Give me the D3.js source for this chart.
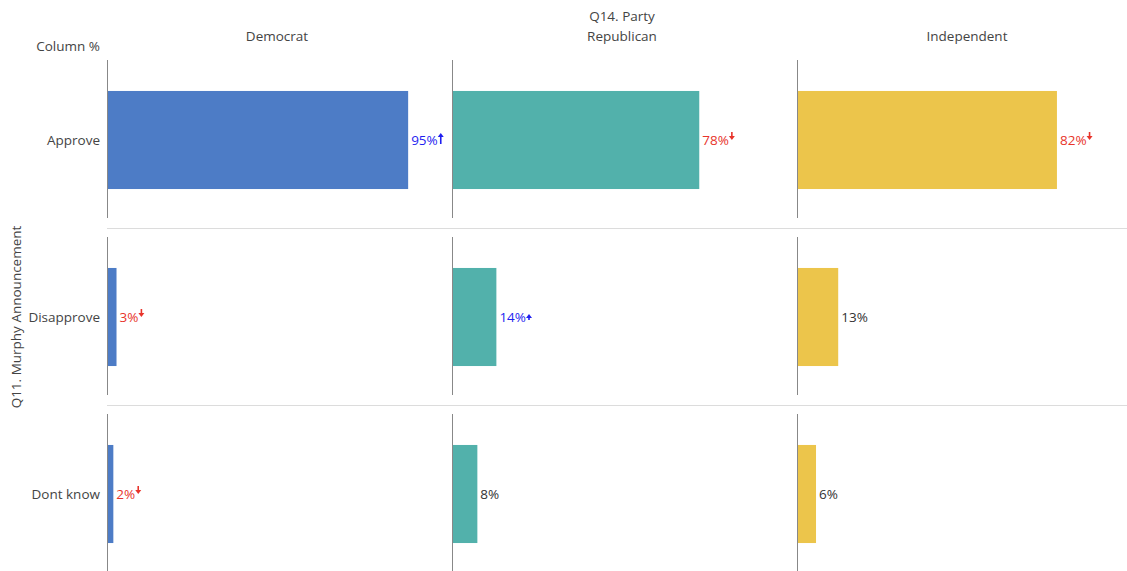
<!DOCTYPE html>
<html>
<head>
<meta charset="utf-8">
<script src="https://cdn.jsdelivr.net/npm/d3@7"></script>
<style>
  body { margin: 0; background: #fff; }
  text { font-family: "Open Sans", sans-serif; }
</style>
</head>
<body>
<div id="chart"></div>
<script>
// Data
const parties = ['Democrat', 'Republican', 'Independent'];
const responses = ['Approve', 'Disapprove', 'Dont know'];
const democrat = [0.95, 0.03, 0.02];
const republican = [0.78, 0.14, 0.08];
const independent = [0.82, 0.13, 0.06];
// significance: 1 = higher, -1 = lower, 0 = none
const democratSig = [1, -1, -1];
const republicanSig = [-1, 1, 0];
const independentSig = [-1, 0, 0];

const partyColors = ['#4d7cc6', '#52b1ab', '#ecc54b'];

const values = [democrat, republican, independent];
const sigs = [democratSig, republicanSig, independentSig];
const cells = [];
parties.forEach((p, i) => {
  responses.forEach((r, j) => {
    cells.push({party: p, response: r, value: values[i][j], sig: sigs[i][j], color: partyColors[i]});
  });
});

const width = 1127, height = 571;
const fontSize = 13.5;
const svg = d3.select('#chart').append('svg')
    .attr('width', width)
    .attr('height', height);

// Panel scales
const colScale = d3.scaleBand().domain(parties).range([107, 107 + 3 * 345]);
const rowScale = d3.scaleBand().domain(responses).range([60, 60 + 3 * 177]);
const xScale = d3.scaleLinear().domain([0, 1]).range([0, 317]);
const barScale = d3.scaleBand().domain(['bar']).range([0, 160]).padding(0.24);

// Row separators
svg.selectAll('.sep')
    .data(responses.slice(0, 2))
  .join('line')
    .attr('class', 'sep')
    .attr('x1', 107).attr('x2', width)
    .attr('y1', d => rowScale(d) + 168.5)
    .attr('y2', d => rowScale(d) + 168.5)
    .attr('stroke', '#dcdcdc')
    .attr('stroke-width', 1);

// Bars
svg.selectAll('.bar')
    .data(cells)
  .join('rect')
    .attr('class', 'bar')
    .attr('x', d => colScale(d.party))
    .attr('y', d => rowScale(d.response) + barScale('bar'))
    .attr('width', d => xScale(d.value))
    .attr('height', barScale.bandwidth())
    .attr('fill', d => d.color);

// Axis lines for each panel
const panels = [];
parties.forEach(p => responses.forEach(r => panels.push({party: p, response: r})));
svg.selectAll('.axisline')
    .data(panels)
  .join('line')
    .attr('class', 'axisline')
    .attr('x1', d => colScale(d.party) + 0.5)
    .attr('x2', d => colScale(d.party) + 0.5)
    .attr('y1', d => rowScale(d.response))
    .attr('y2', d => rowScale(d.response) + 158)
    .attr('stroke', '#888')
    .attr('stroke-width', 1);

// Value labels
const labels = svg.selectAll('.val')
    .data(cells)
  .join('text')
    .attr('class', 'val')
    .attr('x', d => colScale(d.party) + xScale(d.value) + 3)
    .attr('y', d => rowScale(d.response) + barScale('bar') + barScale.bandwidth() / 2)
    .attr('dy', '0.35em')
    .attr('font-size', fontSize)
    .attr('fill', d => d.sig > 0 ? '#1f1ff0' : d.sig < 0 ? '#e8342b' : '#333')
    .text(d => Math.round(d.value * 100) + '%');

// Significance arrows
labels.each(function(d) {
  if (!d.sig) return;
  const len = this.getComputedTextLength();
  const cx = +d3.select(this).attr('x') + len + 3;
  const cy = +d3.select(this).attr('y');
  const col = d.sig > 0 ? '#1f1ff0' : '#e8342b';
  const big = d.sig > 0 && d.value > 0.5;
  const g = svg.append('g').attr('transform', `translate(${cx},${cy})`);
  if (d.sig > 0) {
    const top = big ? -6 : -2, bot = big ? 4 : 3;
    g.append('line').attr('x1', 0).attr('x2', 0).attr('y1', top + 2).attr('y2', bot)
      .attr('stroke', col).attr('stroke-width', 1.6);
    g.append('path').attr('d', `M-3,${top + 3}L0,${top - 1}L3,${top + 3}Z`).attr('fill', col);
  } else {
    g.append('line').attr('x1', 0).attr('x2', 0).attr('y1', -8).attr('y2', -3)
      .attr('stroke', col).attr('stroke-width', 1.6);
    g.append('path').attr('d', 'M-3,-4L0,0L3,-4Z').attr('fill', col);
  }
});

// Row labels
svg.selectAll('.rowlabel')
    .data(responses)
  .join('text')
    .attr('class', 'rowlabel')
    .attr('x', 100)
    .attr('y', d => rowScale(d) + 80)
    .attr('dy', '0.35em')
    .attr('text-anchor', 'end')
    .attr('font-size', fontSize)
    .attr('fill', '#444')
    .text(d => d);

// Column headers
svg.selectAll('.colhead')
    .data(parties)
  .join('text')
    .attr('class', 'colhead')
    .attr('x', d => colScale(d) + 170)
    .attr('y', 36)
    .attr('dy', '0.35em')
    .attr('text-anchor', 'middle')
    .attr('font-size', fontSize)
    .attr('fill', '#444')
    .text(d => d);

svg.append('text')
    .attr('x', colScale('Republican') + 170)
    .attr('y', 16)
    .attr('dy', '0.35em')
    .attr('text-anchor', 'middle')
    .attr('font-size', fontSize)
    .attr('fill', '#444')
    .text('Q14. Party');

svg.append('text')
    .attr('x', 100)
    .attr('y', 46)
    .attr('dy', '0.35em')
    .attr('text-anchor', 'end')
    .attr('font-size', fontSize)
    .attr('fill', '#444')
    .text('Column %');

svg.append('text')
    .attr('transform', `translate(16,${rowScale('Disapprove') + 80}) rotate(-90)`)
    .attr('dy', '0.35em')
    .attr('text-anchor', 'middle')
    .attr('font-size', fontSize)
    .attr('fill', '#444')
    .text('Q11. Murphy Announcement');
</script>
</body>
</html>
